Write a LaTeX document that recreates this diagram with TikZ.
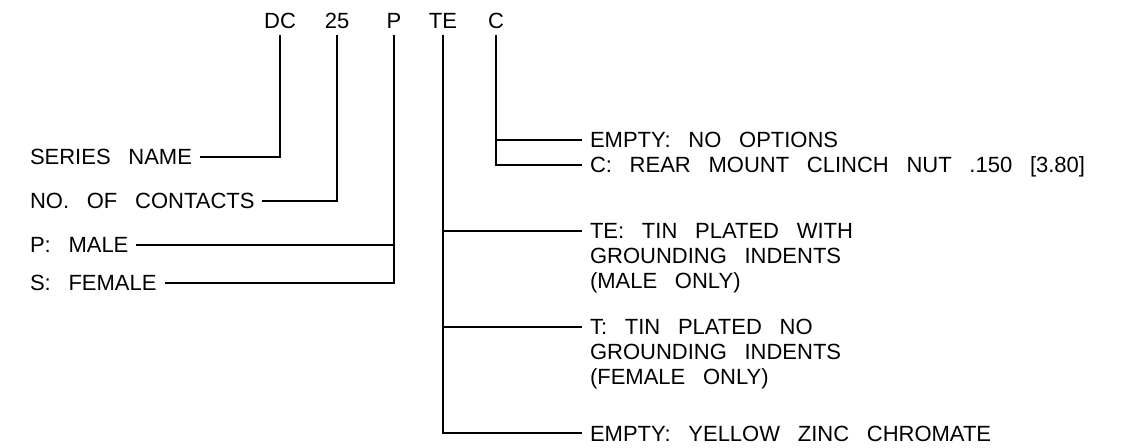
\documentclass[tikz,border=0pt]{standalone}
\usepackage{fontspec}
\setmainfont[WordSpace={2.9,0,0}]{Liberation Sans}
\newcommand\pnfont{\fontsize{16.5}{18.75}\selectfont}
\tikzset{
  partcode/.style={font=\pnfont, inner sep=0pt, text height=12pt, text depth=0pt, outer ysep=4.5pt},
  lbl/.style={font=\pnfont, inner sep=0pt, text height=12pt, text depth=0pt, outer xsep=6pt, anchor=west},
  note/.style={font=\pnfont, inner sep=0pt, outer xsep=6pt, align=left, anchor=north west},
}
\begin{document}
\begin{tikzpicture}[x=0.75pt, y=-0.75pt, line width=0.8pt]
  \useasboundingbox (0,0) rectangle (1123,448);
  % part number
  \node[partcode] (dc) at (280,21) {DC};
  \node[partcode] (nc) at (337,21) {25};
  \node[partcode] (gd) at (394,21) {P};
  \node[partcode] (pl) at (443,21) {TE};
  \node[partcode] (hw) at (496,21) {C};
  % left side
  \node[lbl] (sname) at (22,157) {SERIES NAME};
  \node[lbl] (ncont) at (22,201) {NO. OF CONTACTS};
  \node[lbl] (male) at (22,245) {P: MALE};
  \node[lbl] (fem) at (22,283) {S: FEMALE};
  % right side
  \node[lbl] (nopt) at (582,140) {EMPTY: NO OPTIONS};
  \node[lbl] (clinch) at (582,165) {C: REAR MOUNT CLINCH NUT .150 [3.80]};
  \node[note] (tinw) at (582,223) {TE: TIN PLATED WITH\\GROUNDING INDENTS\\(MALE ONLY)};
  \node[note] (tinno) at (582,319) {T: TIN PLATED NO\\GROUNDING INDENTS\\(FEMALE ONLY)};
  \node[lbl] (ezinc) at (582,433) {EMPTY: YELLOW ZINC CHROMATE};
  % leaders
  \draw (dc.south) |- (sname.east);
  \draw (nc.south) |- (ncont.east);
  \draw (gd.south) |- (male.east);
  \draw (gd.south) |- (fem.east);
  \draw (hw.south) |- (nopt.west);
  \draw (hw.south) |- (clinch.west);
  \draw (pl.south) |- ([yshift=-6pt]tinw.north west);
  \draw (pl.south) |- ([yshift=-6pt]tinno.north west);
  \draw (pl.south) |- (ezinc.west);
\end{tikzpicture}
\end{document}
